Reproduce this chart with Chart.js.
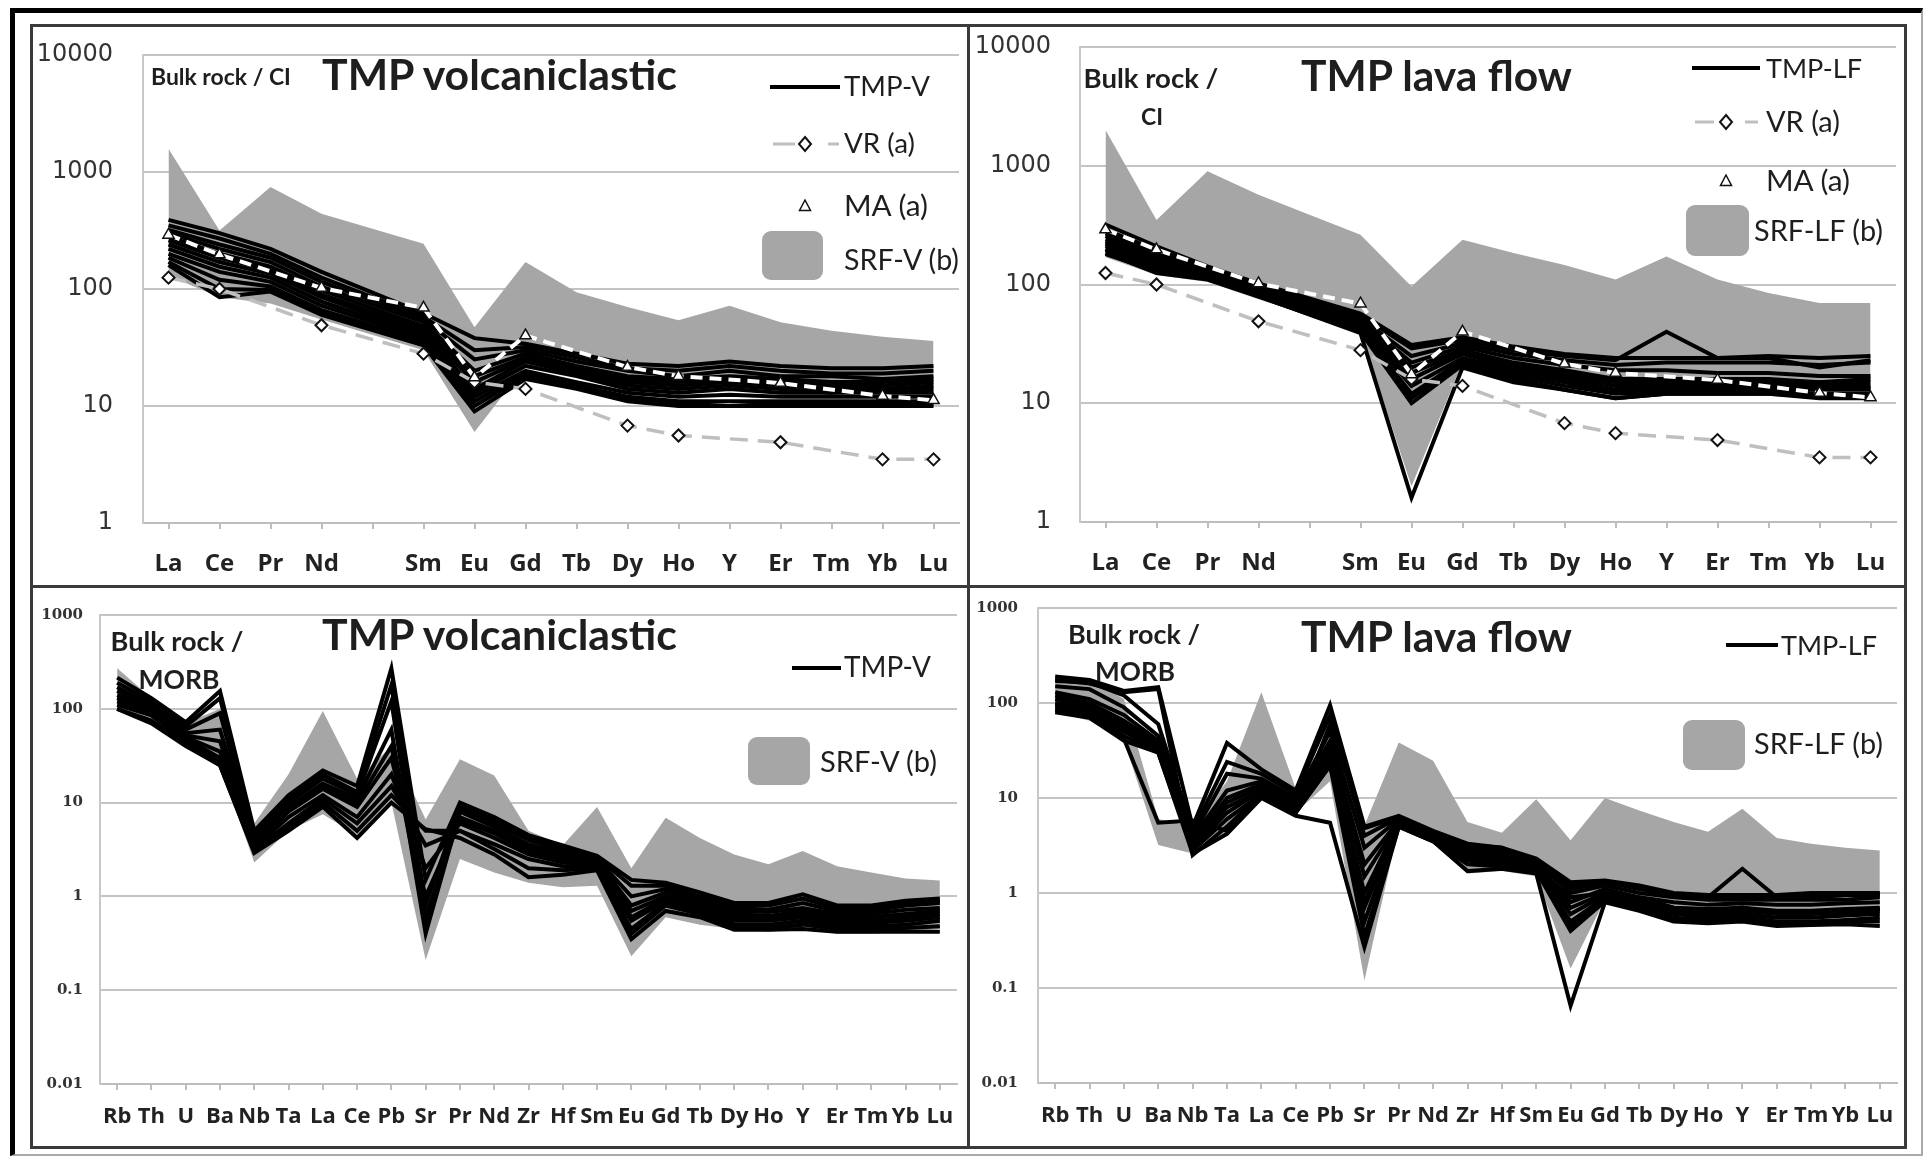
<!DOCTYPE html>
<html lang="en">
<head>
<meta charset="UTF-8" />
<title>TMP REE and multi-element diagrams</title>
<script src="https://cdn.jsdelivr.net/npm/chart.js@4.4.1/dist/chart.umd.min.js"></script>
<style>
  html, body { margin: 0; padding: 0; background: #fff; }
  body { width: 1925px; height: 1158px; position: relative; overflow: hidden; font-family: Lato, "Open Sans", sans-serif; }
  canvas { position: absolute; }
  .box { position: absolute; box-sizing: border-box; }
  .txt { position: absolute; white-space: nowrap; line-height: 1; color: #1e1e1e; }
</style>
</head>
<body>
<div class="box" style="left:10px;top:8px;width:1913px;height:1148px;border-top:5px solid #000;border-left:5px solid #000;border-right:2px solid #aaa;border-bottom:2px solid #aaa"></div>
<canvas id="tl" width="934" height="558" style="left:33px;top:27px"></canvas>
<canvas id="tr" width="934" height="558" style="left:970px;top:27px"></canvas>
<canvas id="bl" width="934" height="558" style="left:33px;top:588px"></canvas>
<canvas id="br" width="934" height="558" style="left:970px;top:588px"></canvas>
<div class="box" style="left:30px;top:24px;width:1877px;height:1125px;border:3px solid #3a3a3a"></div>
<div class="box" style="left:967px;top:24px;width:3px;height:1125px;background:#3a3a3a"></div>
<div class="box" style="left:30px;top:585px;width:1877px;height:3px;background:#3a3a3a"></div>
<svg id="swatches" width="1925" height="1158" style="position:absolute;left:0;top:0"></svg>

<script>
// ---- categories ----
const REE = ['La','Ce','Pr','Nd','','Sm','Eu','Gd','Tb','Dy','Ho','Y','Er','Tm','Yb','Lu'];
const SPIDER = ['Rb','Th','U','Ba','Nb','Ta','La','Ce','Pb','Sr','Pr','Nd','Zr','Hf','Sm','Eu','Gd','Tb','Dy','Ho','Y','Er','Tm','Yb','Lu'];
const ticksCI = [1, 10, 100, 1000, 10000];
const ticksMORB = [0.01, 0.1, 1, 10, 100, 1000];

// ---- reference compositions (CI normalised) ----
const vrA = [125, 100, null, 49, null, 28, 16, 14, null, 6.8, 5.6, null, 4.9, null, 3.5, 3.5];
const maA = [290, 197, null, 102, null, 69, 17.5, 40, null, 21.5, 18, null, 15.7, null, 12.2, 11.2];

// ---- SRF envelopes ----
const srfV_ciHi = [1580, 317, 745, 440, null, 244, 47, 170, 94, 70, 54, 72, 52, 44, 39, 36];
const srfV_ciLo = [130, 85, 75, 55, null, 30, 6, 22, 18, 16, 15, 15, 15, 14, 13, 13];
const srfLF_ciHi = [2000, 350, 900, 570, null, 262, 96, 238, 184, 146, 110, 172, 110, 85, 70, 70];
const srfLF_ciLo = [170, 120, 105, 75, null, 40, 2, 22, 18, 16, 14, 14, 14, 14, 13, 13];
const srfV_morbHi = [270, 130, 70, 100, 6, 20, 95, 18, 40, 6.6, 29, 19.5, 5, 3.5, 9, 2.0, 6.9, 4.2, 2.8, 2.2, 3.05, 2.1, 1.8, 1.55, 1.48];
const srfV_morbLo = [100, 70, 42, 25, 2.3, 5, 7.5, 4.5, 10, 0.21, 2.5, 1.8, 1.4, 1.25, 1.3, 0.23, 0.6, 0.5, 0.45, 0.42, 0.45, 0.4, 0.4, 0.42, 0.45];
const srfLF_morbHi = [190, 180, 110, 6, 5, 15, 130, 12.6, 40, 5.1, 38.5, 24.7, 5.6, 4.3, 9.7, 3.6, 10, 7.4, 5.6, 4.4, 7.7, 3.8, 3.3, 3.0, 2.8];
const srfLF_morbLo = [80, 65, 40, 3.2, 2.6, 4.5, 10, 7, 15, 0.12, 5, 3.5, 1.6, 1.7, 1.5, 0.16, 0.85, 0.7, 0.6, 0.55, 0.6, 0.55, 0.55, 0.55, 0.6];

// ---- TMP samples, CI normalised ----
const tmpV_ci = [
  [390, 300, 220, 140, null, 62, 38, 34, 28, 23, 22, 24, 22, 21, 21, 22],
  [350, 270, 200, 125, null, 58, 30, 32, 26, 21, 20, 22, 20, 19, 19, 20],
  [320, 240, 185, 115, null, 55, 25, 30, 24, 20, 18, 20, 18, 18, 17, 18],
  [300, 220, 170, 105, null, 52, 20, 28, 22, 18, 17, 18, 17, 16, 16, 17],
  [280, 200, 155, 98, null, 48, 18, 26, 21, 17, 16, 17, 16, 15, 15, 16],
  [260, 185, 145, 90, null, 45, 16, 25, 20, 16, 15, 16, 15, 14, 14, 15],
  [240, 170, 135, 85, null, 42, 14, 24, 19, 15, 14, 15, 14, 13, 14, 14],
  [220, 155, 125, 78, null, 40, 13, 22, 18, 14, 13, 14, 13, 13, 13, 13],
  [200, 140, 115, 72, null, 38, 12, 20, 16, 13, 12, 12.5, 12, 12, 12, 12],
  [185, 120, 105, 66, null, 36, 11, 19, 15, 12, 11, 11, 11, 11, 11, 11],
  [170, 100, 98, 62, null, 34, 10, 18, 14.5, 11.5, 10.5, 10, 10.5, 10.5, 10.5, 10.5],
  [160, 85, 95, 60, null, 33, 9, 17, 14, 11, 10, 10, 10, 10, 10, 10]
];
const tmpLF_ci = [
  [320, 210, 142, 102, null, 57, 31, 36, 30, 26, 24, 24, 24, 25, 24, 25],
  [290, 195, 135, 98, null, 55, 29, 34, 28, 25, 23, 40, 24, 24, 20, 23],
  [270, 185, 130, 95, null, 52, 25, 32, 26, 23, 21, 22, 22, 22, 21, 22],
  [255, 175, 127, 92, null, 50, 22, 30, 24, 21, 19, 19, 18, 18, 17, 17],
  [240, 165, 124, 90, null, 48, 20, 28, 22, 19, 16, 16, 16, 16, 15, 16],
  [230, 158, 120, 88, null, 47, 18, 27, 21, 18, 15, 15, 15, 15, 15, 15],
  [220, 150, 118, 86, null, 45, 16, 26, 20, 17, 14, 14, 14, 14, 14, 14],
  [210, 145, 116, 84, null, 44, 14, 24, 19, 16, 13, 13.5, 13.5, 13.5, 13.5, 13.5],
  [200, 138, 114, 82, null, 42, 12, 23, 18, 15, 12.5, 13, 13, 13, 13, 13],
  [195, 132, 112, 80, null, 41, 11, 22, 17, 14, 12, 12.5, 12.5, 12.5, 12, 12],
  [185, 125, 110, 79, null, 40, 10, 21, 16, 13, 11, 12, 12, 12, 11.5, 11.5],
  [180, 130, 112, 80, null, 39, 1.6, 20, 15, 13, 11, 12, 12, 12, 11, 11]
];

// ---- TMP samples, MORB normalised ----
const tmpV_morb = [
  [215, 130, 72, 155, 5, 12, 22, 15, 270, 1.5, 10, 7, 4.5, 3.5, 2.7, 1.5, 1.4, 1.1, 0.85, 0.85, 1.05, 0.8, 0.8, 0.9, 0.95],
  [190, 120, 65, 130, 4.5, 11, 20, 13, 180, 0.8, 9, 6.5, 4.2, 3.2, 2.6, 1.3, 1.3, 1.0, 0.8, 0.8, 0.95, 0.75, 0.75, 0.85, 0.9],
  [170, 110, 60, 90, 4, 10, 18, 12, 120, 0.5, 8.5, 6, 4, 3, 2.5, 1.0, 1.2, 0.95, 0.75, 0.72, 0.85, 0.7, 0.7, 0.8, 0.85],
  [155, 105, 55, 60, 3.8, 9, 16, 11, 60, 0.4, 8, 5.5, 3.6, 2.8, 2.4, 0.8, 1.1, 0.9, 0.7, 0.68, 0.75, 0.65, 0.65, 0.72, 0.75],
  [140, 100, 52, 45, 3.6, 8.5, 15, 10, 40, 0.6, 7, 5, 3.3, 2.6, 2.3, 0.7, 1.0, 0.85, 0.65, 0.62, 0.7, 0.6, 0.6, 0.65, 0.7],
  [130, 95, 50, 35, 3.5, 8, 14, 9, 30, 1.0, 6.5, 4.7, 3, 2.5, 2.2, 0.6, 0.95, 0.8, 0.6, 0.58, 0.65, 0.55, 0.55, 0.6, 0.65],
  [120, 90, 48, 30, 3.3, 7, 12, 7, 20, 2.0, 6, 4.2, 2.8, 2.3, 2.1, 0.55, 0.9, 0.75, 0.55, 0.55, 0.6, 0.52, 0.52, 0.55, 0.6],
  [110, 85, 45, 27, 3.1, 6, 11, 6, 15, 3.5, 5, 3.6, 2.5, 2.1, 2, 0.45, 0.85, 0.7, 0.5, 0.5, 0.55, 0.48, 0.48, 0.5, 0.55],
  [100, 75, 42, 25, 3, 5.5, 10, 5, 12, 5, 5, 3.2, 2, 1.9, 2, 0.4, 0.8, 0.65, 0.47, 0.46, 0.5, 0.45, 0.45, 0.46, 0.48],
  [100, 70, 40, 25, 2.9, 5, 9, 4.2, 10, 5.2, 4.2, 2.8, 1.6, 1.7, 1.9, 0.35, 0.7, 0.6, 0.44, 0.44, 0.45, 0.42, 0.42, 0.42, 0.42]
];
const tmpLF_morb = [
  [190, 175, 134, 147, 5, 38, 20, 12, 95, 5, 6.5, 4.5, 3.3, 3, 2.3, 1.3, 1.35, 1.2, 1.0, 0.95, 0.95, 0.95, 1.0, 1.0, 1.0],
  [170, 165, 120, 60, 4.5, 24, 18, 11, 75, 4, 6.2, 4.3, 3.1, 2.9, 2.2, 1.1, 1.3, 1.1, 0.95, 0.9, 1.8, 0.9, 0.9, 0.95, 0.95],
  [150, 140, 90, 45, 4, 18, 16, 10, 50, 3, 6, 4.2, 3, 2.7, 2.1, 1.0, 1.2, 1.0, 0.9, 0.85, 0.85, 0.85, 0.85, 0.85, 0.9],
  [130, 110, 75, 40, 3.8, 12, 15, 9.5, 40, 2, 5.8, 4, 2.8, 2.5, 2, 0.8, 1.1, 0.9, 0.8, 0.75, 0.78, 0.75, 0.75, 0.78, 0.8],
  [120, 100, 65, 38, 3.5, 10, 14, 9, 35, 1.5, 5.6, 3.9, 2.6, 2.3, 1.9, 0.7, 1.0, 0.85, 0.7, 0.68, 0.7, 0.65, 0.65, 0.68, 0.7],
  [110, 95, 60, 35, 3.3, 9, 13, 8.5, 30, 1.0, 5.5, 3.8, 2.5, 2.2, 1.9, 0.6, 0.95, 0.8, 0.65, 0.6, 0.65, 0.6, 0.6, 0.62, 0.65],
  [100, 90, 55, 33, 3.2, 8, 12, 8, 28, 0.7, 5.3, 3.7, 2.3, 2.1, 1.8, 0.5, 0.9, 0.75, 0.6, 0.56, 0.6, 0.55, 0.55, 0.58, 0.6],
  [95, 85, 50, 32, 3, 7, 12, 7.5, 25, 0.5, 5.2, 3.6, 2.2, 2, 1.8, 0.45, 0.85, 0.7, 0.55, 0.52, 0.56, 0.5, 0.5, 0.52, 0.55],
  [90, 80, 45, 30, 2.8, 6, 11, 7, 22, 0.35, 5, 3.5, 2, 1.9, 1.7, 0.4, 0.82, 0.68, 0.52, 0.5, 0.53, 0.47, 0.48, 0.5, 0.5],
  [80, 70, 40, 30, 2.6, 4.2, 10, 6.5, 5.5, 0.27, 5, 3.5, 1.7, 1.8, 1.6, 0.065, 0.8, 0.65, 0.5, 0.48, 0.5, 0.45, 0.46, 0.47, 0.45],
  [175, 160, 130, 140, 2.5, 5, 11, 7, 60, 4.8, 6.3, 4.2, 3.2, 3, 2.1, 1.2, 1.3, 1.15, 0.98, 0.9, 0.9, 0.9, 0.92, 0.95, 0.98],
  [85, 75, 42, 5.5, 5.8, 4.5, 11, 7, 22, 0.8, 5.4, 3.7, 2.4, 2.1, 1.8, 0.9, 1.0, 0.9, 0.7, 0.65, 0.7, 0.62, 0.62, 0.65, 0.68]
];

const GRAY = '#a6a6a6';

function envelope(hi, lo) {
  return [
    { data: hi, fill: '+1', backgroundColor: GRAY, borderColor: 'rgba(0,0,0,0)', borderWidth: 0, pointRadius: 0, spanGaps: true, order: 4 },
    { data: lo, fill: false, borderColor: 'rgba(0,0,0,0)', borderWidth: 0, pointRadius: 0, spanGaps: true, order: 4 }
  ];
}

function samples(rows) {
  return rows.map(r => ({ data: r, borderColor: '#000', borderWidth: 4, pointRadius: 0, fill: false, spanGaps: true, order: 3 }));
}

function refs() {
  return [
    { data: vrA, borderColor: '#bfbfbf', borderWidth: 3.5, borderDash: [18, 10], pointStyle: 'rectRot', pointRadius: 6,
      pointBackgroundColor: '#fff', pointBorderColor: '#111', pointBorderWidth: 2, fill: false, spanGaps: true, order: 2 },
    { data: maA, borderColor: '#fff', borderWidth: 4, borderDash: [12, 7], pointStyle: 'triangle', pointRadius: 6.5,
      pointBackgroundColor: '#fff', pointBorderColor: '#111', pointBorderWidth: 1.5, fill: false, spanGaps: true, order: 1 }
  ];
}

function makeChart(id, labels, datasets, yMin, yMax, yTicks, area, opt) {
  const cv = document.getElementById(id);
  const W = cv.width, H = cv.height;
  const fit = { top: area.top, right: W - area.right, xh: H - area.bottom, yw: area.left };
  const chart = new Chart(cv, {
    type: 'line',
    data: { labels: labels, datasets: datasets },
    options: {
      responsive: false,
      animation: false,
      devicePixelRatio: 1,
      layout: { padding: { left: 0, top: fit.top, right: fit.right, bottom: 0 } },
      plugins: { legend: { display: false }, tooltip: { enabled: false } },
      scales: {
        x: {
          type: 'category',
          offset: true,
          afterFit: s => { s.height = fit.xh; s.paddingLeft = 0; s.paddingRight = 0; },
          border: { display: true, color: '#bdbdbd', width: 2 },
          grid: { drawOnChartArea: false, drawTicks: true, tickLength: 6, offset: false, color: '#bdbdbd', lineWidth: 2 },
          ticks: { autoSkip: false, maxRotation: 0, minRotation: 0, padding: opt.xPad, color: '#222',
                   font: { family: 'Open Sans', weight: 'bold', size: opt.xSize } }
        },
        y: {
          type: 'logarithmic',
          min: yMin,
          max: yMax,
          afterFit: s => { s.width = fit.yw; s.paddingTop = 0; s.paddingBottom = 0; },
          afterBuildTicks: s => { s.ticks = yTicks.map(v => ({ value: v })); },
          border: { display: true, color: '#c8c8c8', width: 2 },
          grid: { color: '#c4c4c4', lineWidth: 2, drawTicks: false },
          ticks: { padding: opt.yPad, color: '#333', callback: v => String(v), font: opt.yFont }
        }
      }
    }
  });
  // nudge the plot area onto the measured position
  for (let i = 0; i < 3; i++) {
    const ca = chart.chartArea;
    fit.top += area.top - ca.top;
    fit.right += ca.right - area.right;
    fit.xh += ca.bottom - area.bottom;
    fit.yw += area.left - ca.left;
    chart.options.layout.padding = { left: 0, top: fit.top, right: fit.right, bottom: 0 };
    chart.update();
  }
  return chart;
}

const ciFont = { family: 'DejaVu Sans', size: 24 };
const morbFont = { family: 'DejaVu Serif', weight: 'bold', size: 15 };

makeChart('tl', REE, [...envelope(srfV_ciHi, srfV_ciLo), ...samples(tmpV_ci), ...refs()],
  1, 10000, ticksCI, { left: 110, right: 932, top: 28, bottom: 496 }, { xPad: 21, xSize: 24, yPad: 30, yFont: ciFont });
makeChart('tr', REE, [...envelope(srfLF_ciHi, srfLF_ciLo), ...samples(tmpLF_ci), ...refs()],
  1, 10000, ticksCI, { left: 110, right: 933, top: 20, bottom: 495 }, { xPad: 21, xSize: 24, yPad: 29, yFont: ciFont });
makeChart('bl', SPIDER, [...envelope(srfV_morbHi, srfV_morbLo), ...samples(tmpV_morb)],
  0.01, 1000, ticksMORB, { left: 67, right: 924, top: 27, bottom: 496 }, { xPad: 14, xSize: 22, yPad: 17, yFont: morbFont });
makeChart('br', SPIDER, [...envelope(srfLF_morbHi, srfLF_morbLo), ...samples(tmpLF_morb)],
  0.01, 1000, ticksMORB, { left: 68, right: 927, top: 20, bottom: 495 }, { xPad: 14, xSize: 22, yPad: 20, yFont: morbFont });

// ---- panel annotations (text) ----
// [text, x, y(centre of caps), target width, anchor, weight]
const notes = [
  ['Bulk rock / CI', 151, 77, 140, 'left', 700],
  ['TMP volcaniclastic', 322, 76, 355, 'left', 700],
  ['TMP-V', 844, 87, 86, 'left', 400],
  ['VR (a)', 844, 144, 71, 'left', 400],
  ['MA (a)', 844, 206, 84, 'left', 400],
  ['SRF-V (b)', 844, 260, 115, 'left', 400],

  ['Bulk rock /', 1151, 79, 135, 'center', 700],
  ['CI', 1152, 117, 22, 'center', 700],
  ['TMP lava flow', 1301, 76, 271, 'left', 700],
  ['TMP-LF', 1766, 68, 96, 'left', 400],
  ['VR (a)', 1766, 122, 74, 'left', 400],
  ['MA (a)', 1766, 181, 84, 'left', 400],
  ['SRF-LF (b)', 1754, 231, 129, 'left', 400],

  ['Bulk rock /', 177, 641, 133, 'center', 700],
  ['MORB', 179, 680, 81, 'center', 700],
  ['TMP volcaniclastic', 322, 636, 355, 'left', 700],
  ['TMP-V', 844, 668, 87, 'left', 400],
  ['SRF-V (b)', 820, 761, 117, 'left', 400],

  ['Bulk rock /', 1134, 635, 132, 'center', 700],
  ['MORB', 1135, 672, 80, 'center', 700],
  ['TMP lava flow', 1301, 637, 271, 'left', 700],
  ['TMP-LF', 1781, 645, 96, 'left', 400],
  ['SRF-LF (b)', 1754, 744, 129, 'left', 400]
];

notes.forEach(([t, x, y, w, anchor, weight]) => {
  const el = document.createElement('div');
  el.className = 'txt';
  el.textContent = t;
  el.style.fontWeight = weight;
  el.style.fontSize = '40px';
  document.body.appendChild(el);
  const s = 40 * w / el.getBoundingClientRect().width;
  el.style.fontSize = s.toFixed(2) + 'px';
  el.style.top = (y - 0.53 * s).toFixed(1) + 'px';
  el.style.left = (anchor === 'center' ? x - w / 2 : x) + 'px';
});

// ---- legend swatches ----
const svg = document.getElementById('swatches');
function add(tag, attrs) {
  const e = document.createElementNS('http://www.w3.org/2000/svg', tag);
  for (const k in attrs) e.setAttribute(k, attrs[k]);
  svg.appendChild(e);
}
function seg(x1, x2, y, color, w) { add('line', { x1: x1, x2: x2, y1: y, y2: y, stroke: color, 'stroke-width': w }); }
function diamond(x, y) { add('polygon', { points: `${x},${y - 7} ${x + 6},${y} ${x},${y + 7} ${x - 6},${y}`, fill: '#fff', stroke: '#111', 'stroke-width': 2 }); }
function tri(x, y) { add('polygon', { points: `${x},${y - 6} ${x + 5.5},${y + 4.5} ${x - 5.5},${y + 4.5}`, fill: '#fff', stroke: '#111', 'stroke-width': 1.5 }); }
function patch(x, y, w, h) { add('rect', { x: x, y: y, width: w, height: h, rx: 9, fill: GRAY }); }

seg(770, 840, 87, '#000', 4);
seg(773, 795, 144, '#bfbfbf', 3); diamond(805, 144); seg(828, 839, 144, '#bfbfbf', 3);
tri(805, 206);
patch(762, 231, 61, 49);

seg(1692, 1760, 68, '#000', 4);
seg(1695, 1714, 122, '#bfbfbf', 3); diamond(1726, 122); seg(1745, 1758, 122, '#bfbfbf', 3);
tri(1726, 181);
patch(1686, 205, 63, 51);

seg(792, 841, 668, '#000', 4);
patch(748, 737, 62, 48);

seg(1726, 1778, 645, '#000', 4);
patch(1683, 720, 62, 50);
</script>
</body>
</html>
